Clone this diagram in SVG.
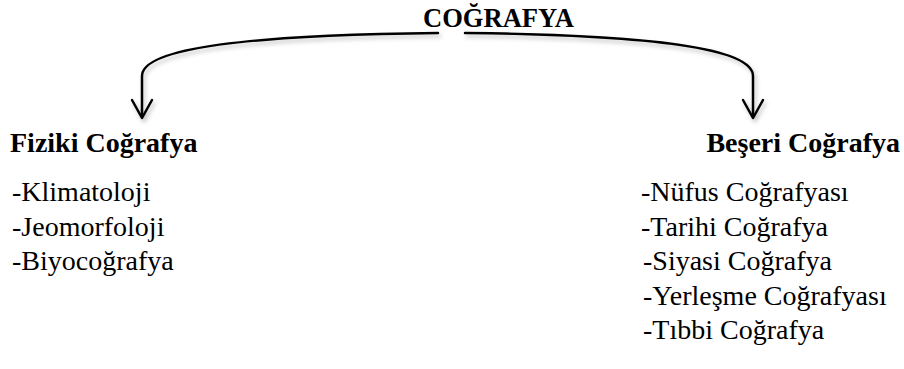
<svg xmlns="http://www.w3.org/2000/svg" width="904" height="369" viewBox="0 0 904 369">
<style>
text{font-family:'Liberation Serif','DejaVu Serif',serif;font-size:28px;fill:#000}
.b{font-weight:bold}
.c{fill:none;stroke:#000;stroke-width:2.5;stroke-linecap:round;stroke-linejoin:round}
</style>
<defs>
<filter id="sh" x="-10%" y="-20%" width="120%" height="160%">
<feDropShadow dx="2" dy="3" stdDeviation="2" flood-color="#000" flood-opacity="0.25"/>
</filter>
</defs>
<g id="connectors" filter="url(#sh)">
<path class="c" d="M438,33 C250,35 142,48 142,76 L142,117"/>
<path class="c" d="M465,33 C650,35 753,48 753,76 L753,117"/>
<path class="c" d="M132,100 L142,118 L152,100"/>
<path class="c" d="M743,100 L753,118 L763,100"/>
</g>
<g id="root"><text class="b" x="423" y="27" textLength="151" lengthAdjust="spacingAndGlyphs">COĞRAFYA</text></g>
<g id="fiziki">
<text class="b" x="10" y="152">Fiziki Coğrafya</text>
<text x="12" y="201">-Klimatoloji</text>
<text x="12" y="236">-Jeomorfoloji</text>
<text x="12" y="270">-Biyocoğrafya</text>
</g>
<g id="beseri">
<text class="b" x="900" y="152" text-anchor="end">Beşeri Coğrafya</text>
<text x="641" y="201">-Nüfus Coğrafyası</text>
<text x="641" y="236">-Tarihi Coğrafya</text>
<text x="643" y="270">-Siyasi Coğrafya</text>
<text x="643" y="305">-Yerleşme Coğrafyası</text>
<text x="643" y="339">-Tıbbi Coğrafya</text>
</g>
</svg>
